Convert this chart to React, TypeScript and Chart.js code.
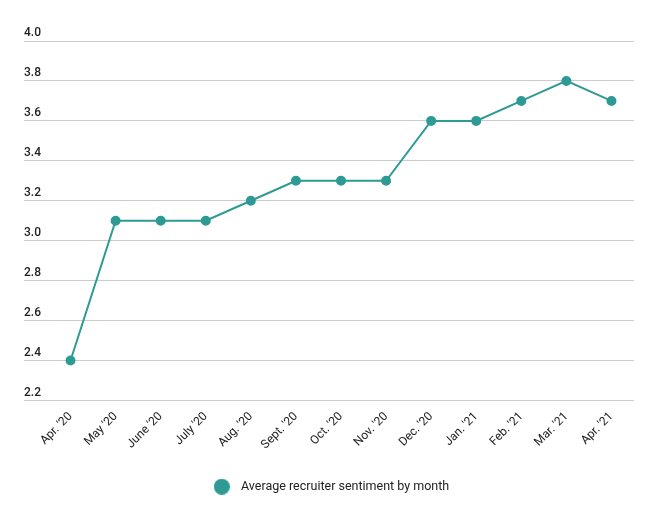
import React, { useEffect, useRef } from "react";
import { Chart, registerables } from "chart.js";

Chart.register(...registerables);

const months = ["Apr. '20", "May '20", "June '20", "July '20", "Aug. '20", "Sept. '20", "Oct. '20", "Nov. '20", "Dec. '20", "Jan. '21", "Feb. '21", "Mar. '21", "Apr. '21"];
const sentiment = [2.4, 3.1, 3.1, 3.1, 3.2, 3.3, 3.3, 3.3, 3.6, 3.6, 3.7, 3.8, 3.7];
const seriesLabel = "Average recruiter sentiment by month";
const yMin = 2.2;
const yMax = 4.0;
const yStep = 0.2;

const TEAL = "#2e9a94";

function makeDot(): HTMLCanvasElement {
  const c = document.createElement("canvas");
  c.width = 16;
  c.height = 16;
  const ctx = c.getContext("2d")!;
  ctx.fillStyle = TEAL;
  ctx.beginPath();
  ctx.arc(8, 8, 8, 0, Math.PI * 2);
  ctx.fill();
  return c;
}

export default function App() {
  const ref = useRef<HTMLCanvasElement | null>(null);
  useEffect(() => {
    if (!ref.current) return;
    Chart.defaults.font.family = "Roboto";
    const dot = makeDot();
    const chart = new Chart(ref.current, {
      type: "line",
      data: {
        labels: months,
        datasets: [
          {
            label: seriesLabel,
            data: sentiment,
            borderColor: TEAL,
            backgroundColor: TEAL,
            pointBackgroundColor: TEAL,
            pointBorderColor: TEAL,
            borderWidth: 2,
            pointRadius: 4,
            tension: 0,
          },
        ],
      },
      options: {
        animation: false,
        responsive: true,
        maintainAspectRatio: false,
        layout: { padding: { left: 16, right: 25, top: 33, bottom: 7 } },
        plugins: {
          tooltip: { enabled: false },
          legend: {
            position: "bottom",
            labels: {
              usePointStyle: true,
              pointStyle: dot as any,
              pointStyleWidth: 26,
              boxHeight: 12,
              color: "#222",
              font: { size: 12.5 },
              padding: 10,
            },
          },
        },
        scales: {
          x: {
            offset: true,
            grid: { display: false },
            border: { display: false },
            ticks: {
              color: "#222",
              font: { size: 12 },
              minRotation: 45,
              maxRotation: 45,
              padding: 1,
            },
            afterFit: (s: any) => {
              s.height = 70;
            },
          },
          y: {
            min: yMin,
            max: yMax,
            border: { display: false },
            grid: { color: "#cccccc", tickLength: 24, lineWidth: 1 },
            ticks: {
              stepSize: yStep,
              crossAlign: "far",
              labelOffset: -8,
              color: "#222",
              font: { size: 12, weight: 500 },
              callback: (v: any) => Number(v).toFixed(1),
            },
            afterFit: (s: any) => {
              s.width = 24;
            },
          },
        },
      },
    });
    return () => chart.destroy();
  }, []);
  return (
    <div style={{ width: 651, height: 502, position: "relative" }}>
      <canvas ref={ref} />
    </div>
  );
}
